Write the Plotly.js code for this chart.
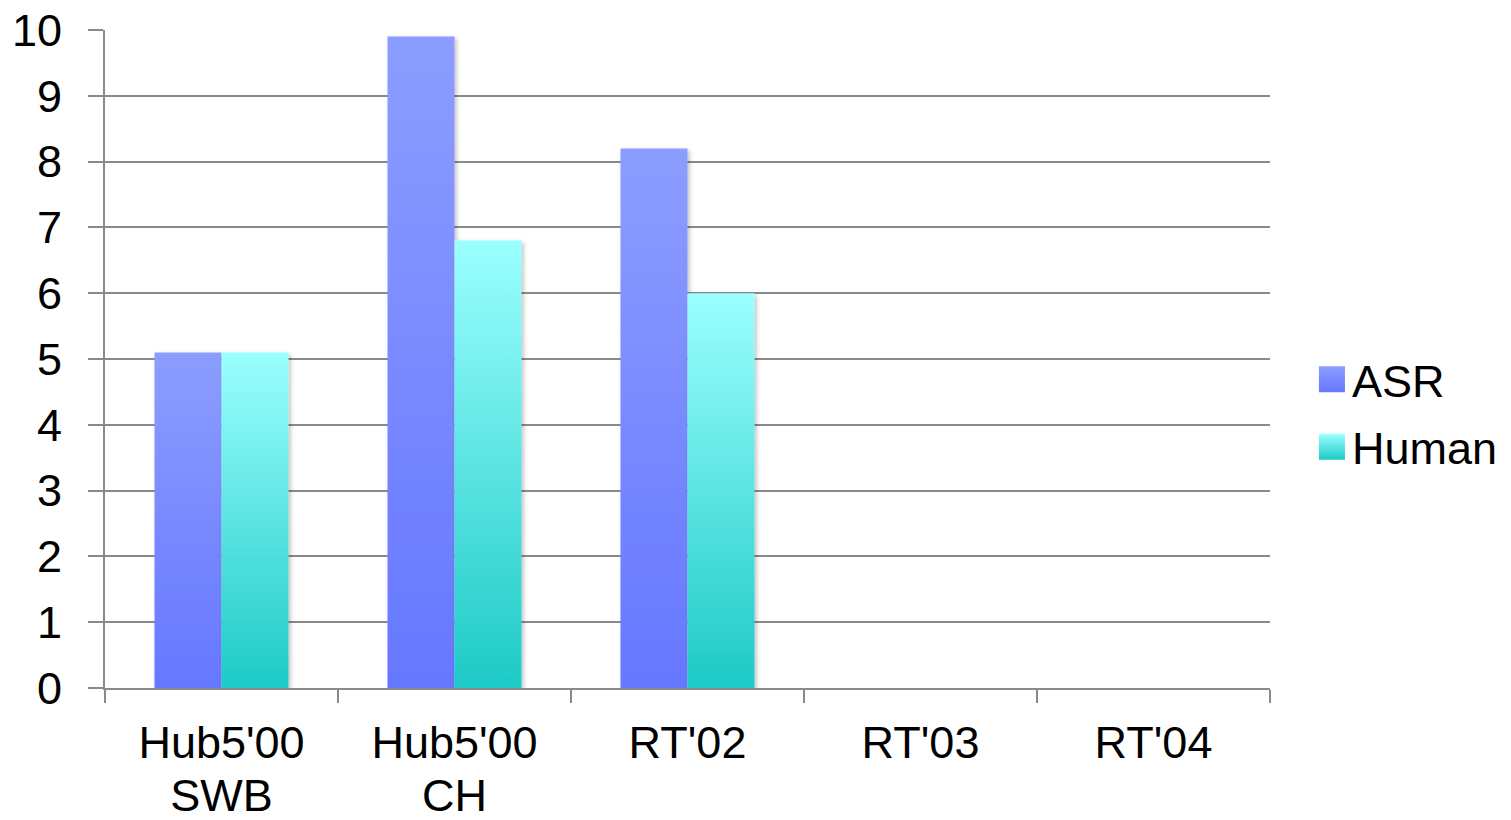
<!DOCTYPE html>
<html>
<head>
<meta charset="utf-8">
<script src="https://cdn.plot.ly/plotly-3.0.1.min.js"></script>
<style>html,body{margin:0;padding:0;background:#fff;}#chart{width:1511px;height:820px;}</style>
</head>
<body>
<div id="chart"></div>
<script>
const categories = ["Hub5'00<br>SWB", "Hub5'00<br>CH", "RT'02", "RT'03", "RT'04"];
const asrValues = [5.1, 9.9, 8.2, null, null];
const humanValues = [5.1, 6.8, 6.0, null, null];
const seriesNames = ["ASR", "Human"];
const yTicks = [0, 1, 2, 3, 4, 5, 6, 7, 8, 9, 10];

const gridColor = '#8a8a8a';
const font = {family: 'Liberation Sans, Arial, sans-serif', size: 45, color: '#000'};

const traces = [
  {type: 'bar', name: seriesNames[0], x: categories, y: asrValues, marker: {color: '#7788ff', line: {width: 0}}, legendgroup: 'a'},
  {type: 'bar', name: seriesNames[1], x: categories, y: humanValues, marker: {color: '#5ee3e3', line: {width: 0}}, legendgroup: 'h'}
];

const layout = {
  width: 1511, height: 820,
  margin: {l: 105, r: 241, t: 30, b: 132, pad: 0},
  paper_bgcolor: '#fff', plot_bgcolor: '#fff',
  font: font,
  barmode: 'group', bargap: 0.425, bargroupgap: 0,
  showlegend: true,
  legend: {x: 1.03, xanchor: 'left', y: 0.418, yanchor: 'middle', font: font,
           traceorder: 'grouped', tracegroupgap: 6, bgcolor: 'rgba(0,0,0,0)'},
  xaxis: {type: 'category', tickson: 'boundaries', ticks: 'outside', ticklen: 13,
          tickwidth: 2, tickcolor: gridColor, showgrid: false, showline: true,
          linecolor: gridColor, linewidth: 2, tickfont: font, ticklabelstandoff: 14, fixedrange: true},
  yaxis: {range: [0, 10], tickvals: yTicks, ticktext: yTicks.map(String), ticks: 'outside', ticklen: 15,
          tickwidth: 2, tickcolor: gridColor, showgrid: true, gridcolor: gridColor, gridwidth: 2,
          showline: true, linecolor: gridColor, linewidth: 2, zeroline: false,
          tickfont: font, ticklabelstandoff: 17, fixedrange: true}
};

Plotly.newPlot('chart', traces, layout, {displayModeBar: false, staticPlot: true}).then(function (gd) {
  const svg = gd.querySelector('.main-svg');
  const ns = 'http://www.w3.org/2000/svg';
  let defs = svg.querySelector('defs');
  if (!defs) { defs = document.createElementNS(ns, 'defs'); svg.insertBefore(defs, svg.firstChild); }
  function grad(id, top, bottom) {
    const g = document.createElementNS(ns, 'linearGradient');
    g.setAttribute('id', id);
    g.setAttribute('x1', '0'); g.setAttribute('y1', '0');
    g.setAttribute('x2', '0'); g.setAttribute('y2', '1');
    [[0, top], [1, bottom]].forEach(function (s) {
      const st = document.createElementNS(ns, 'stop');
      st.setAttribute('offset', s[0]);
      st.setAttribute('stop-color', s[1]);
      g.appendChild(st);
    });
    defs.appendChild(g);
  }
  grad('gASR', '#8c9dff', '#6677ff');
  grad('gHum', '#9bffff', '#1dcac6');
  const f = document.createElementNS(ns, 'filter');
  f.setAttribute('id', 'barShadow');
  f.setAttribute('x', '-20%'); f.setAttribute('y', '-5%');
  f.setAttribute('width', '140%'); f.setAttribute('height', '110%');
  const ds = document.createElementNS(ns, 'feDropShadow');
  ds.setAttribute('dx', '2'); ds.setAttribute('dy', '2');
  ds.setAttribute('stdDeviation', '2'); ds.setAttribute('flood-opacity', '0.25');
  f.appendChild(ds);
  defs.appendChild(f);
  const ids = ['gASR', 'gHum'];
  gd.querySelectorAll('.barlayer .trace').forEach(function (t, i) {
    t.querySelectorAll('path').forEach(function (p) {
      p.style.fill = 'url(#' + ids[i] + ')';
      p.setAttribute('filter', 'url(#barShadow)');
    });
  });
  gd.querySelectorAll('.legend .traces').forEach(function (t, i) {
    t.querySelectorAll('.legendpoints path').forEach(function (p) {
      p.setAttribute('d', 'M13,13H-13V-13H13Z');
      p.style.fill = 'url(#' + ids[i] + ')';
    });
  });
  // nudge legend to the reference position without triggering margin growth
  const leg = gd.querySelector('.legend');
  if (leg) {
    const m = /translate\(([-\d.]+),\s*([-\d.]+)\)/.exec(leg.getAttribute('transform') || '');
    if (m) leg.setAttribute('transform', 'translate(' + (parseFloat(m[1]) + 7) + ',' + m[2] + ')');
  }
  // tighter line spacing for two-line category labels
  gd.querySelectorAll('.xtick text').forEach(function (t) {
    const lines = t.querySelectorAll('tspan.line');
    for (let k = 1; k < lines.length; k++) lines[k].setAttribute('dy', '1.17em');
  });
});
</script>
</body>
</html>
